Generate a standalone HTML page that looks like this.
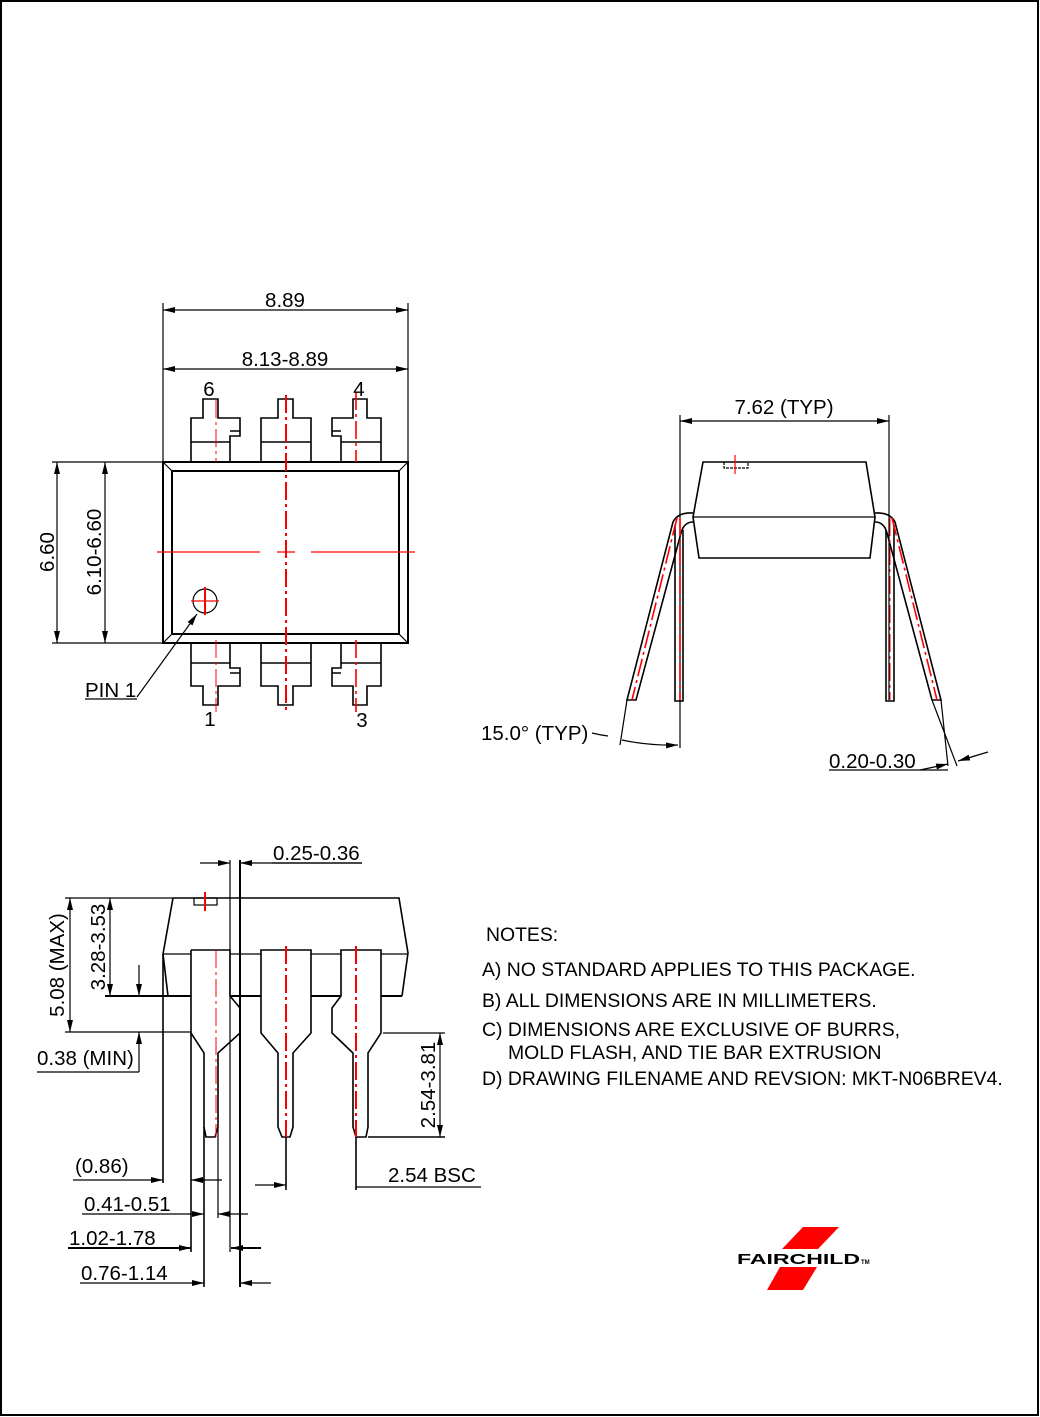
<!DOCTYPE html>
<html><head><meta charset="utf-8"><style>
html,body{margin:0;padding:0;background:#fff}
svg{display:block}
text{font-family:"Liberation Sans",sans-serif;fill:#000}
</style></head><body>
<svg width="1040" height="1417" viewBox="0 0 1040 1417" xmlns="http://www.w3.org/2000/svg">
<defs>
<marker id="a" viewBox="0 0 12 6" refX="12" refY="3" markerWidth="12" markerHeight="6" markerUnits="userSpaceOnUse" orient="auto-start-reverse"><path d="M0,0L12,3L0,6z" fill="#000"/></marker>
</defs>
<rect x="1" y="1" width="1037" height="1414" fill="none" stroke="#000" stroke-width="2"/>

<g stroke="#000" fill="none" stroke-width="1.2">
<line x1="163" y1="303" x2="163" y2="462"/><line x1="408" y1="303" x2="408" y2="462"/>
<line x1="163" y1="310" x2="408" y2="310" marker-start="url(#a)" marker-end="url(#a)"/>
<line x1="163" y1="369" x2="408" y2="369" marker-start="url(#a)" marker-end="url(#a)"/>
<rect x="163" y="462" width="245" height="181" stroke-width="2"/>
<rect x="172" y="471" width="227" height="163" stroke-width="2"/>
<path d="M163 462L172 471M408 462L399 471M163 643L172 634M408 643L399 634"/>
<line x1="52" y1="462" x2="163" y2="462"/><line x1="52" y1="643" x2="163" y2="643"/>
<line x1="57" y1="462" x2="57" y2="643" marker-start="url(#a)" marker-end="url(#a)"/>
<line x1="105" y1="462" x2="105" y2="643" marker-start="url(#a)" marker-end="url(#a)"/>
<g stroke-width="1.6">
<path d="M191 462V418H203V399H218V418H240V436H230V462"/><path d="M230 431H240M191 442H230"/>
<path d="M261 462V418H278V399H293V418H311V462M261 442H311"/>
<path d="M381 462V418H367V399H353V418H332V436H341V462"/><path d="M341 431H332M341 442H381"/>
<path d="M191 643V686H203V705H218V686H240V668H230V643"/><path d="M230 673H240M191 663H230"/>
<path d="M261 643V686H278V705H293V686H311V643M261 663H311"/>
<path d="M381 643V686H367V705H353V686H332V668H341V643"/><path d="M341 673H332M341 663H381"/>
</g>
<circle cx="205" cy="601" r="12"/>
<path d="M137 697L197 614" marker-end="url(#a)"/><line x1="85" y1="699" x2="137" y2="699"/>

<line x1="680" y1="415" x2="680" y2="748"/><line x1="889" y1="415" x2="889" y2="700"/>
<line x1="680" y1="421" x2="889" y2="421" marker-start="url(#a)" marker-end="url(#a)"/>
<path d="M703 462H866L875 517L870 558H699L693 517Z" stroke-width="1.6"/>
<line x1="693" y1="517" x2="875" y2="517"/>
<path d="M724 462V468H748V462" stroke-dasharray="3 1"/>
<path d="M693 513Q678 512 673 522L627 700H636L681 533Q684 522 693 522" stroke-width="1.6"/>
<path d="M675 525V701H683V530" stroke-width="1.6"/>
<path d="M875 513Q890 512 895 522L941 700H932L887 533Q884 522 875 522" stroke-width="1.6"/>
<path d="M894 525V701H886V530" stroke-width="1.6"/>
<path d="M627 700L620 745M941 700L948 766M932 700L957 766"/>
<path d="M592 733Q600 735 608 736"/>
<path d="M622 740Q650 746 678 745" marker-end="url(#a)"/>
<line x1="829" y1="770" x2="948" y2="770"/>
<path d="M920 770L948 764" marker-end="url(#a)"/>
<path d="M988 752L958 761" marker-end="url(#a)"/>

<path d="M173 898H399L408 953L402 996" stroke-width="1.6"/>
<path d="M173 898L163 954L168 996" stroke-width="1.6"/>
<path d="M163 954H191M230 954H261M311 954H341M381 954H408"/>
<path d="M105 996H191M230 996H261M311 996H341M381 996H402" stroke-width="2"/>
<rect x="194" y="898" width="23" height="7"/>
<g stroke-width="1.6">
<path d="M191 950H230V996L240 1008V1033L218 1053V1127L215 1137H206L204 1127V1053L191 1033V950"/>
<path d="M261 950H311V1033L293 1053V1127L290 1137H282L278 1127V1053L261 1033Z"/>
<path d="M341 950H381V1033L368 1053V1127L366 1137H356L353 1127V1053L332 1033V1008L341 996Z"/>
</g>
<line x1="230" y1="860" x2="230" y2="1252"/><line x1="240" y1="860" x2="240" y2="1287" stroke-width="2"/>
<line x1="163" y1="954" x2="163" y2="1183" stroke-width="1.6"/>
<line x1="191" y1="1033" x2="191" y2="1252" stroke-width="1.6"/>
<line x1="204" y1="1127" x2="204" y2="1287" stroke-width="1.6"/>
<line x1="218" y1="1127" x2="218" y2="1218"/>
<line x1="286" y1="1137" x2="286" y2="1190" stroke-width="1.6"/>
<line x1="356" y1="1137" x2="356" y2="1190" stroke-width="1.6"/>
<line x1="200" y1="863" x2="230" y2="863" marker-end="url(#a)"/>
<line x1="362" y1="863" x2="240" y2="863" marker-end="url(#a)"/>
<line x1="65" y1="898" x2="173" y2="898"/><line x1="65" y1="1032" x2="191" y2="1032"/>
<line x1="70" y1="898" x2="70" y2="1032" marker-start="url(#a)" marker-end="url(#a)"/>
<line x1="110" y1="898" x2="110" y2="996" marker-start="url(#a)" marker-end="url(#a)"/>
<line x1="139" y1="965" x2="139" y2="996" marker-end="url(#a)"/>
<line x1="139" y1="1072" x2="139" y2="1032" marker-end="url(#a)"/>
<line x1="37" y1="1072" x2="139" y2="1072"/>
<line x1="383" y1="1033" x2="445" y2="1033"/><line x1="368" y1="1137" x2="445" y2="1137" stroke-width="1.6"/>
<line x1="440" y1="1033" x2="440" y2="1137" marker-start="url(#a)" marker-end="url(#a)"/>
<line x1="73" y1="1180" x2="163" y2="1180" marker-end="url(#a)"/>
<line x1="222" y1="1180" x2="191" y2="1180" marker-end="url(#a)"/>
<line x1="82" y1="1214" x2="204" y2="1214" marker-end="url(#a)"/>
<line x1="248" y1="1214" x2="218" y2="1214" marker-end="url(#a)"/>
<line x1="68" y1="1248" x2="191" y2="1248" stroke-width="2" marker-end="url(#a)"/>
<line x1="261" y1="1248" x2="231" y2="1248" stroke-width="2" marker-end="url(#a)"/>
<line x1="80" y1="1283" x2="204" y2="1283" marker-end="url(#a)"/>
<line x1="271" y1="1283" x2="240" y2="1283" marker-end="url(#a)"/>
<line x1="255" y1="1185" x2="286" y2="1185" marker-end="url(#a)"/>
<line x1="356" y1="1187" x2="481" y2="1187"/>
<line x1="272" y1="863" x2="362" y2="863"/>
</g>

<g stroke="#f00" fill="none" stroke-dasharray="18 4 3 4">
<line x1="286" y1="395" x2="286" y2="710" stroke-width="2"/>
<line x1="216" y1="400" x2="216" y2="462"/><line x1="216" y1="640" x2="216" y2="712"/>
<line x1="356" y1="392" x2="356" y2="462" stroke-width="1.6"/><line x1="356" y1="640" x2="356" y2="712" stroke-width="1.6"/>
<line x1="680" y1="518" x2="680" y2="700" stroke-width="1.6"/>
<line x1="890" y1="518" x2="890" y2="700"/>
<line x1="677" y1="518" x2="632" y2="700" stroke-width="1.6"/>
<line x1="892" y1="518" x2="937" y2="700" stroke-width="1.6"/>
<line x1="216" y1="950" x2="216" y2="1137"/>
<line x1="286" y1="946" x2="286" y2="1137" stroke-width="2"/>
<line x1="356" y1="946" x2="356" y2="1137" stroke-width="2"/>
</g>
<g stroke="#f00" stroke-width="1.2">
<line x1="157" y1="552" x2="260" y2="552"/><line x1="277" y1="552" x2="295" y2="552"/><line x1="311" y1="552" x2="415" y2="552"/>
<line x1="191" y1="601" x2="219" y2="601"/><line x1="205" y1="587" x2="205" y2="615" stroke-width="2"/>
<line x1="735" y1="455" x2="735" y2="474"/>
<line x1="205" y1="892" x2="205" y2="911" stroke-width="2"/>
</g>

<g font-size="20.5">
<text x="285" y="307" text-anchor="middle">8.89</text>
<text x="285" y="366" text-anchor="middle">8.13-8.89</text>
<text x="209" y="396" text-anchor="middle">6</text><text x="359" y="396" text-anchor="middle">4</text>
<text x="210" y="726" text-anchor="middle">1</text><text x="362" y="727" text-anchor="middle">3</text>
<text transform="translate(54,552) rotate(-90)" text-anchor="middle">6.60</text>
<text transform="translate(101,552) rotate(-90)" text-anchor="middle">6.10-6.60</text>
<text x="85" y="697">PIN 1</text>
<text x="784" y="414" text-anchor="middle">7.62 (TYP)</text>
<text x="481" y="740">15.0° (TYP)</text>
<text x="829" y="768">0.20-0.30</text>
<text x="273" y="860">0.25-0.36</text>
<text transform="translate(64,965) rotate(-90)" text-anchor="middle">5.08 (MAX)</text>
<text transform="translate(105,947) rotate(-90)" text-anchor="middle">3.28-3.53</text>
<text x="37" y="1065">0.38 (MIN)</text>
<text transform="translate(435,1085) rotate(-90)" text-anchor="middle">2.54-3.81</text>
<text x="75" y="1173">(0.86)</text>
<text x="84" y="1211">0.41-0.51</text>
<text x="69" y="1245">1.02-1.78</text>
<text x="81" y="1280">0.76-1.14</text>
<text x="388" y="1182">2.54 BSC</text>
</g>
<g font-size="19.4">
<text x="486" y="941">NOTES:</text>
<text x="482" y="976">A) NO STANDARD APPLIES TO THIS PACKAGE.</text>
<text x="482" y="1007">B) ALL DIMENSIONS ARE IN MILLIMETERS.</text>
<text x="482" y="1036">C) DIMENSIONS ARE EXCLUSIVE OF BURRS,</text>
<text x="508" y="1059">MOLD FLASH, AND TIE BAR EXTRUSION</text>
<text x="482" y="1085">D) DRAWING FILENAME AND REVSION: MKT-N06BREV4.</text>
</g>
<polygon points="803,1227 839,1227 818,1249 782,1249" fill="#f00"/>
<polygon points="780,1267 817,1267 803,1290 767,1290" fill="#f00"/>
<text x="737" y="1264" font-size="15" font-weight="bold" textLength="123" lengthAdjust="spacingAndGlyphs">FAIRCHILD</text>
<text x="861" y="1264" font-size="6" font-weight="bold">TM</text>
</svg>
</body></html>
